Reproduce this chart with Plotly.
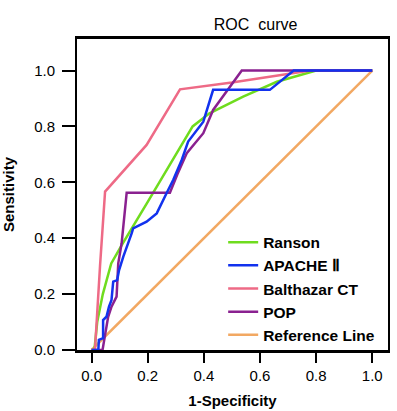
import plotly.graph_objects as go

# Ranson
ranson_x = [0.0, 0.01, 0.02, 0.04, 0.07, 0.11, 0.2, 0.29, 0.36, 0.42, 0.54, 0.66, 0.745, 0.8, 1.0]
ranson_y = [0.0, 0.0, 0.1, 0.2, 0.31, 0.38, 0.53, 0.68, 0.80, 0.847, 0.907, 0.96, 0.985, 1.0, 1.0]
# APACHE II
apache_x = [0.0, 0.024, 0.026, 0.041, 0.041, 0.053, 0.062, 0.071, 0.077, 0.091, 0.098, 0.113, 0.143, 0.148,
            0.196, 0.232, 0.267, 0.291, 0.321, 0.344, 0.398, 0.433, 0.635, 0.713, 0.72, 1.0]
apache_y = [0.0, 0.0, 0.036, 0.042, 0.107, 0.119, 0.155, 0.179, 0.245, 0.25, 0.286, 0.334, 0.418, 0.435,
            0.459, 0.489, 0.561, 0.609, 0.68, 0.746, 0.817, 0.931, 0.931, 0.993, 1.0, 1.0]
# Balthazar CT
balth_x = [0.0, 0.012, 0.03, 0.048, 0.196, 0.315, 0.5, 0.707, 0.78, 1.0]
balth_y = [0.0, 0.0, 0.3, 0.567, 0.734, 0.933, 0.957, 0.99, 1.0, 1.0]
# POP
pop_x = [0.0, 0.039, 0.047, 0.059, 0.071, 0.089, 0.095, 0.107, 0.125, 0.279, 0.306, 0.339, 0.398, 0.433, 0.535, 1.0]
pop_y = [0.0, 0.0, 0.048, 0.119, 0.155, 0.191, 0.31, 0.382, 0.563, 0.563, 0.63, 0.704, 0.776, 0.859, 1.0, 1.0]
# Reference line
ref_x = [0.0, 1.0]
ref_y = [0.0, 1.0]

tick_vals = [0, 0.2, 0.4, 0.6, 0.8, 1.0]

series = [
    ("Reference Line", ref_x, ref_y, "#f2a862", 5),
    ("Ranson", ranson_x, ranson_y, "#6fdc1e", 1),
    ("Balthazar CT", balth_x, balth_y, "#ee6a86", 3),
    ("POP", pop_x, pop_y, "#8a2190", 4),
    ("APACHE \u2161", apache_x, apache_y, "#1232ee", 2),
]

fig = go.Figure()
for name, xs, ys, col, rank in series:
    fig.add_trace(go.Scatter(
        x=xs, y=ys, mode="lines", name=name,
        line=dict(color=col, width=2.5),
        legendrank=rank, legendgroup=name,
    ))

fig.update_layout(
    width=397, height=411,
    margin=dict(l=77, r=9, t=39, b=61, autoexpand=False),
    paper_bgcolor="white", plot_bgcolor="white",
    font=dict(family="Liberation Sans, Arial, sans-serif", color="black", size=13),
    title=dict(text="ROC  curve", x=228 / 397, xanchor="center", y=1 - 24 / 411, yanchor="middle",
               yref="container", xref="paper", font=dict(size=16, color="black")),
    showlegend=True,
    legend=dict(x=0.47, y=0.4, xanchor="left", yanchor="top",
                bgcolor="rgba(0,0,0,0)", traceorder="grouped", tracegroupgap=0,
                font=dict(size=15.5, color="black", weight="bold"), itemwidth=30),
    xaxis=dict(range=[-0.052, 1.056], tickvals=tick_vals, tickformat=".1f", automargin=False,
               showgrid=False, zeroline=False, showline=True, linecolor="black", linewidth=2.5,
               mirror=True, ticks="outside", ticklen=10, tickwidth=2, tickcolor="black",
               tickfont=dict(size=15),
               title=dict(text="1-Specificity", standoff=13, font=dict(size=15, weight="bold"))),
    yaxis=dict(range=[0, 1.113], tickvals=tick_vals, tickformat=".1f", automargin=False,
               showgrid=False, zeroline=False, showline=True, linecolor="black", linewidth=2,
               mirror=True, ticks="outside", ticklen=13, tickwidth=2, tickcolor="black",
               tickfont=dict(size=15), ticklabelstandoff=4,
               title=dict(text="Sensitivity", standoff=20, font=dict(size=15, weight="bold"))),
)

fig.write_html("out.html", config={"displayModeBar": False},
               post_script="document.body.style.margin='0';")
